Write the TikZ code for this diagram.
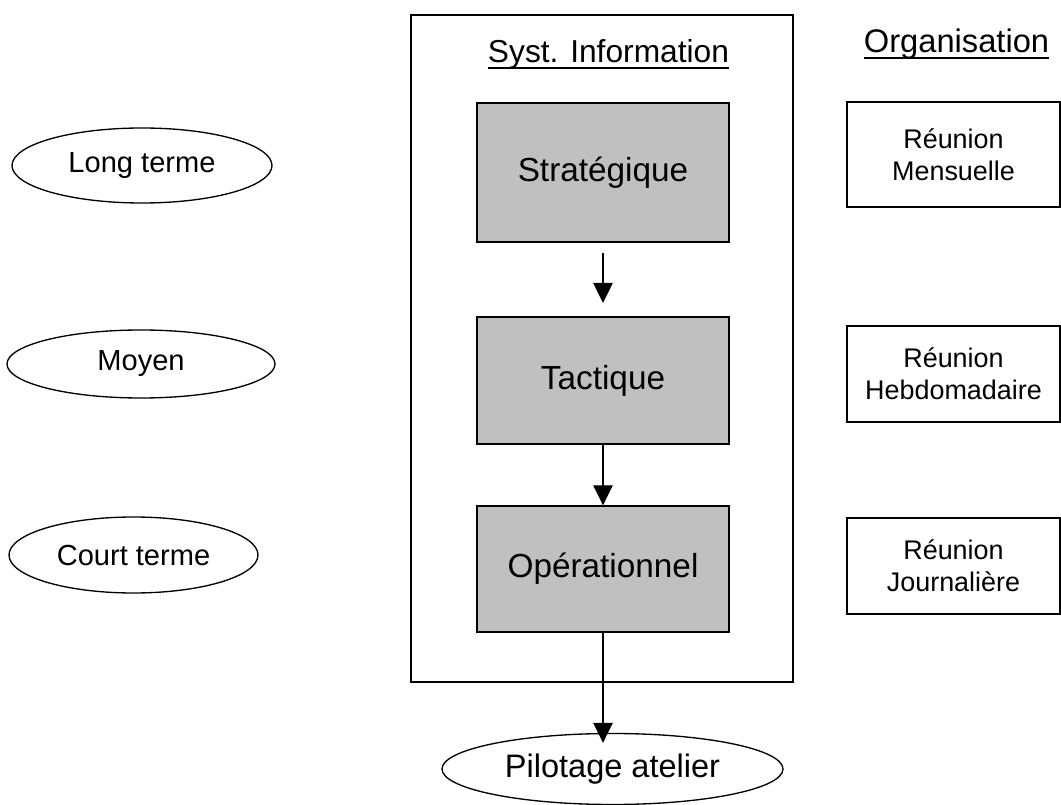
\documentclass[tikz,border=0pt]{standalone}
\usepackage{fontspec}
\setmainfont{Liberation Sans}
\usetikzlibrary{shapes.geometric,arrows.meta}
\definecolor{grisniveau}{HTML}{C0C0C0}
\tikzset{
  niveau/.style={draw, fill=grisniveau, line width=1pt, inner sep=0pt, minimum width=189pt, font=\fontsize{25}{29}\selectfont},
  horizon/.style={draw, ellipse, line width=1pt, inner sep=0pt, font=\fontsize{21.8}{26}\selectfont},
  reunion/.style={draw, line width=1pt, inner sep=0pt, align=center, minimum width=159.75pt, minimum height=72pt, font=\fontsize{20.2}{24}\selectfont},
  titre/.style={inner sep=0pt, anchor=base, font=\fontsize{23.8}{28}\selectfont},
  fleche/.style={-{Triangle[width=14.5pt,length=15pt]}, line width=1pt}
}
\begin{document}
\begin{tikzpicture}[x=0.75pt,y=-0.75pt]
\useasboundingbox (0,0) rectangle (1061,805);
% systeme d'information
\draw[line width=1pt] (411,15) rectangle (793,682);
\node[titre] (si) at (608.5,63) {Syst. Information};
\draw[line width=1.4pt] ([yshift=-4pt]si.base west) -- ([yshift=-4pt]si.base east);
\node[niveau, minimum height=104.25pt] (strat) at (603,172.5) {Stratégique};
\node[niveau, minimum height=95.25pt] (tact) at (603,380.5) {Tactique};
\node[niveau, minimum height=94.5pt] (oper) at (603,569) {Opérationnel};
\node[horizon, minimum width=255.75pt, minimum height=53.25pt, font=\fontsize{24.4}{28}\selectfont] (pilot) at (612.5,769) {Pilotage atelier};
\draw[fleche, shorten <=8pt, shorten >=10pt] (strat) -- (tact);
\draw[fleche] (tact) -- (oper);
\draw[fleche, shorten >=-7.5pt] (oper.south) -- (oper.south |- pilot.north);
% horizons
\node[horizon, minimum width=195pt, minimum height=56.25pt] (long) at (142,165.5) {Long terme};
\node[horizon, minimum width=201pt, minimum height=51pt] (moyen) at (141,364) {Moyen};
\node[horizon, minimum width=186.75pt, minimum height=57pt] (court) at (133.5,555) {Court terme};
% organisation
\node[titre, font=\fontsize{24.5}{28}\selectfont] (orga) at (956.5,53) {Organisation};
\draw[line width=1.4pt] ([yshift=-4pt]orga.base west) -- ([yshift=-4pt]orga.base east);
\node[reunion, minimum height=78.75pt] (mens) at (953.5,154.5) {Réunion\\Mensuelle};
\node[reunion] (hebdo) at (953.5,374) {Réunion\\Hebdomadaire};
\node[reunion] (journ) at (953.5,566) {Réunion\\Journalière};
\end{tikzpicture}
\end{document}
